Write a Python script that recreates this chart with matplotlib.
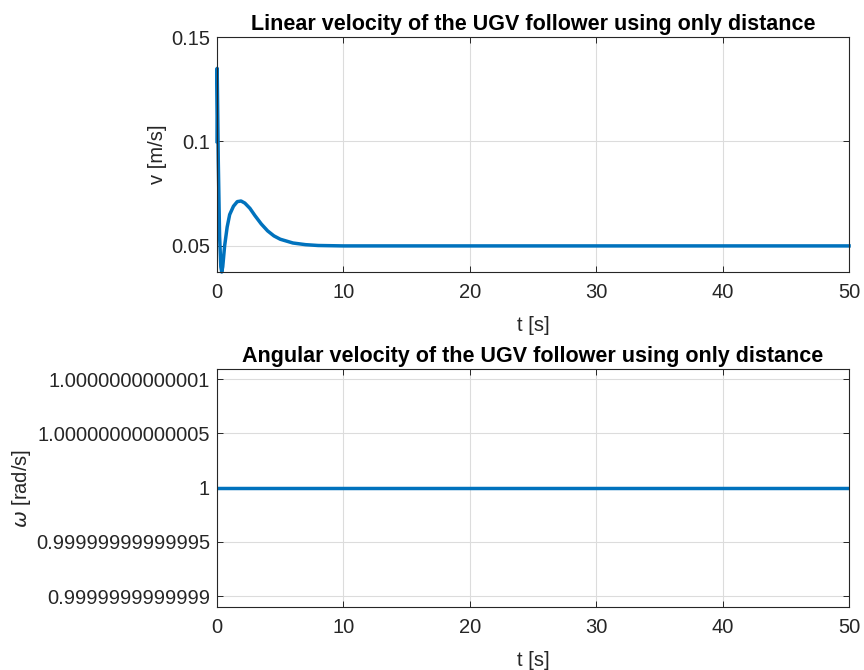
import matplotlib
matplotlib.use('Agg')
import matplotlib.pyplot as plt

plt.rcParams['font.family'] = ['Liberation Sans', 'DejaVu Sans']
plt.rcParams['mathtext.fontset'] = 'dejavusans'

# linear velocity
t_v = [0, 0.01, 0.05, 0.1, 0.2, 0.3, 0.37, 0.45, 0.6, 0.8, 1.0, 1.3, 1.6, 1.9,
       2.2, 2.6, 3.0, 3.5, 4.0, 4.5, 5.0, 6.0, 7.0, 8.0, 10.0, 50.0]
v = [0.100, 0.135, 0.115, 0.090, 0.055, 0.040, 0.0375, 0.040, 0.050, 0.059,
     0.065, 0.069, 0.0712, 0.0715, 0.0705, 0.0680, 0.0645, 0.0605, 0.0572,
     0.0548, 0.0532, 0.0514, 0.0506, 0.0502, 0.0500, 0.0500]

# angular velocity (constant)
t_w = [0, 50]
w = [1.0, 1.0]

w_ticks = [1 - 1e-13, 1 - 5e-14, 1.0, 1 + 5e-14, 1 + 1e-13]
w_labels = ['0.9999999999999', '0.99999999999995', '1',
            '1.00000000000005', '1.0000000000001']
x_ticks = [0, 10, 20, 30, 40, 50]

blue = '#0072BD'
dark = '#262626'
fs = 14.5

fig = plt.figure(figsize=(8.64, 6.70), dpi=100)
ax1 = fig.add_axes([0.2512, 0.594, 0.7315, 0.3507])
ax2 = fig.add_axes([0.2512, 0.094, 0.7315, 0.355])

for ax in (ax1, ax2):
    ax.set_xlim(0, 50)
    ax.set_xticks(x_ticks)
    ax.grid(True, color='#dcdcdc', linewidth=0.8)
    ax.set_axisbelow(True)
    ax.tick_params(direction='in', length=4, width=0.7, colors=dark,
                   labelsize=fs, top=True, right=True, labelcolor=dark)
    ax.tick_params(axis='x', pad=8)
    ax.tick_params(axis='y', pad=5)
    for s in ax.spines.values():
        s.set_color(dark)
        s.set_linewidth(0.8)
    ax.set_xlabel('t [s]', fontsize=fs, color=dark, labelpad=10)

ax1.plot(t_v, v, color=blue, linewidth=2.5, solid_joinstyle='round',
         clip_on=False)
ax1.set_ylim(0.0375, 0.15)
ax1.set_yticks([0.05, 0.1, 0.15])
ax1.set_yticklabels(['0.05', '0.1', '0.15'])
ax1.set_ylabel('v [m/s]', fontsize=fs, color=dark, labelpad=3)
ax1.set_title('Linear velocity of the UGV follower using only distance',
              fontsize=15.5, fontweight='bold', color='black', pad=5)

ax2.plot(t_w, w, color=blue, linewidth=2.5)
ax2.set_ylim(1 - 1.1e-13, 1 + 1.09e-13)
ax2.set_yticks(w_ticks)
ax2.set_yticklabels(w_labels)
ax2.set_ylabel(r'$\omega$ [rad/s]', fontsize=fs, color=dark, labelpad=2)
ax2.set_title('Angular velocity of the UGV follower using only distance',
              fontsize=15.5, fontweight='bold', color='black', pad=5)

plt.savefig('out.png', dpi=100)
plt.close()
